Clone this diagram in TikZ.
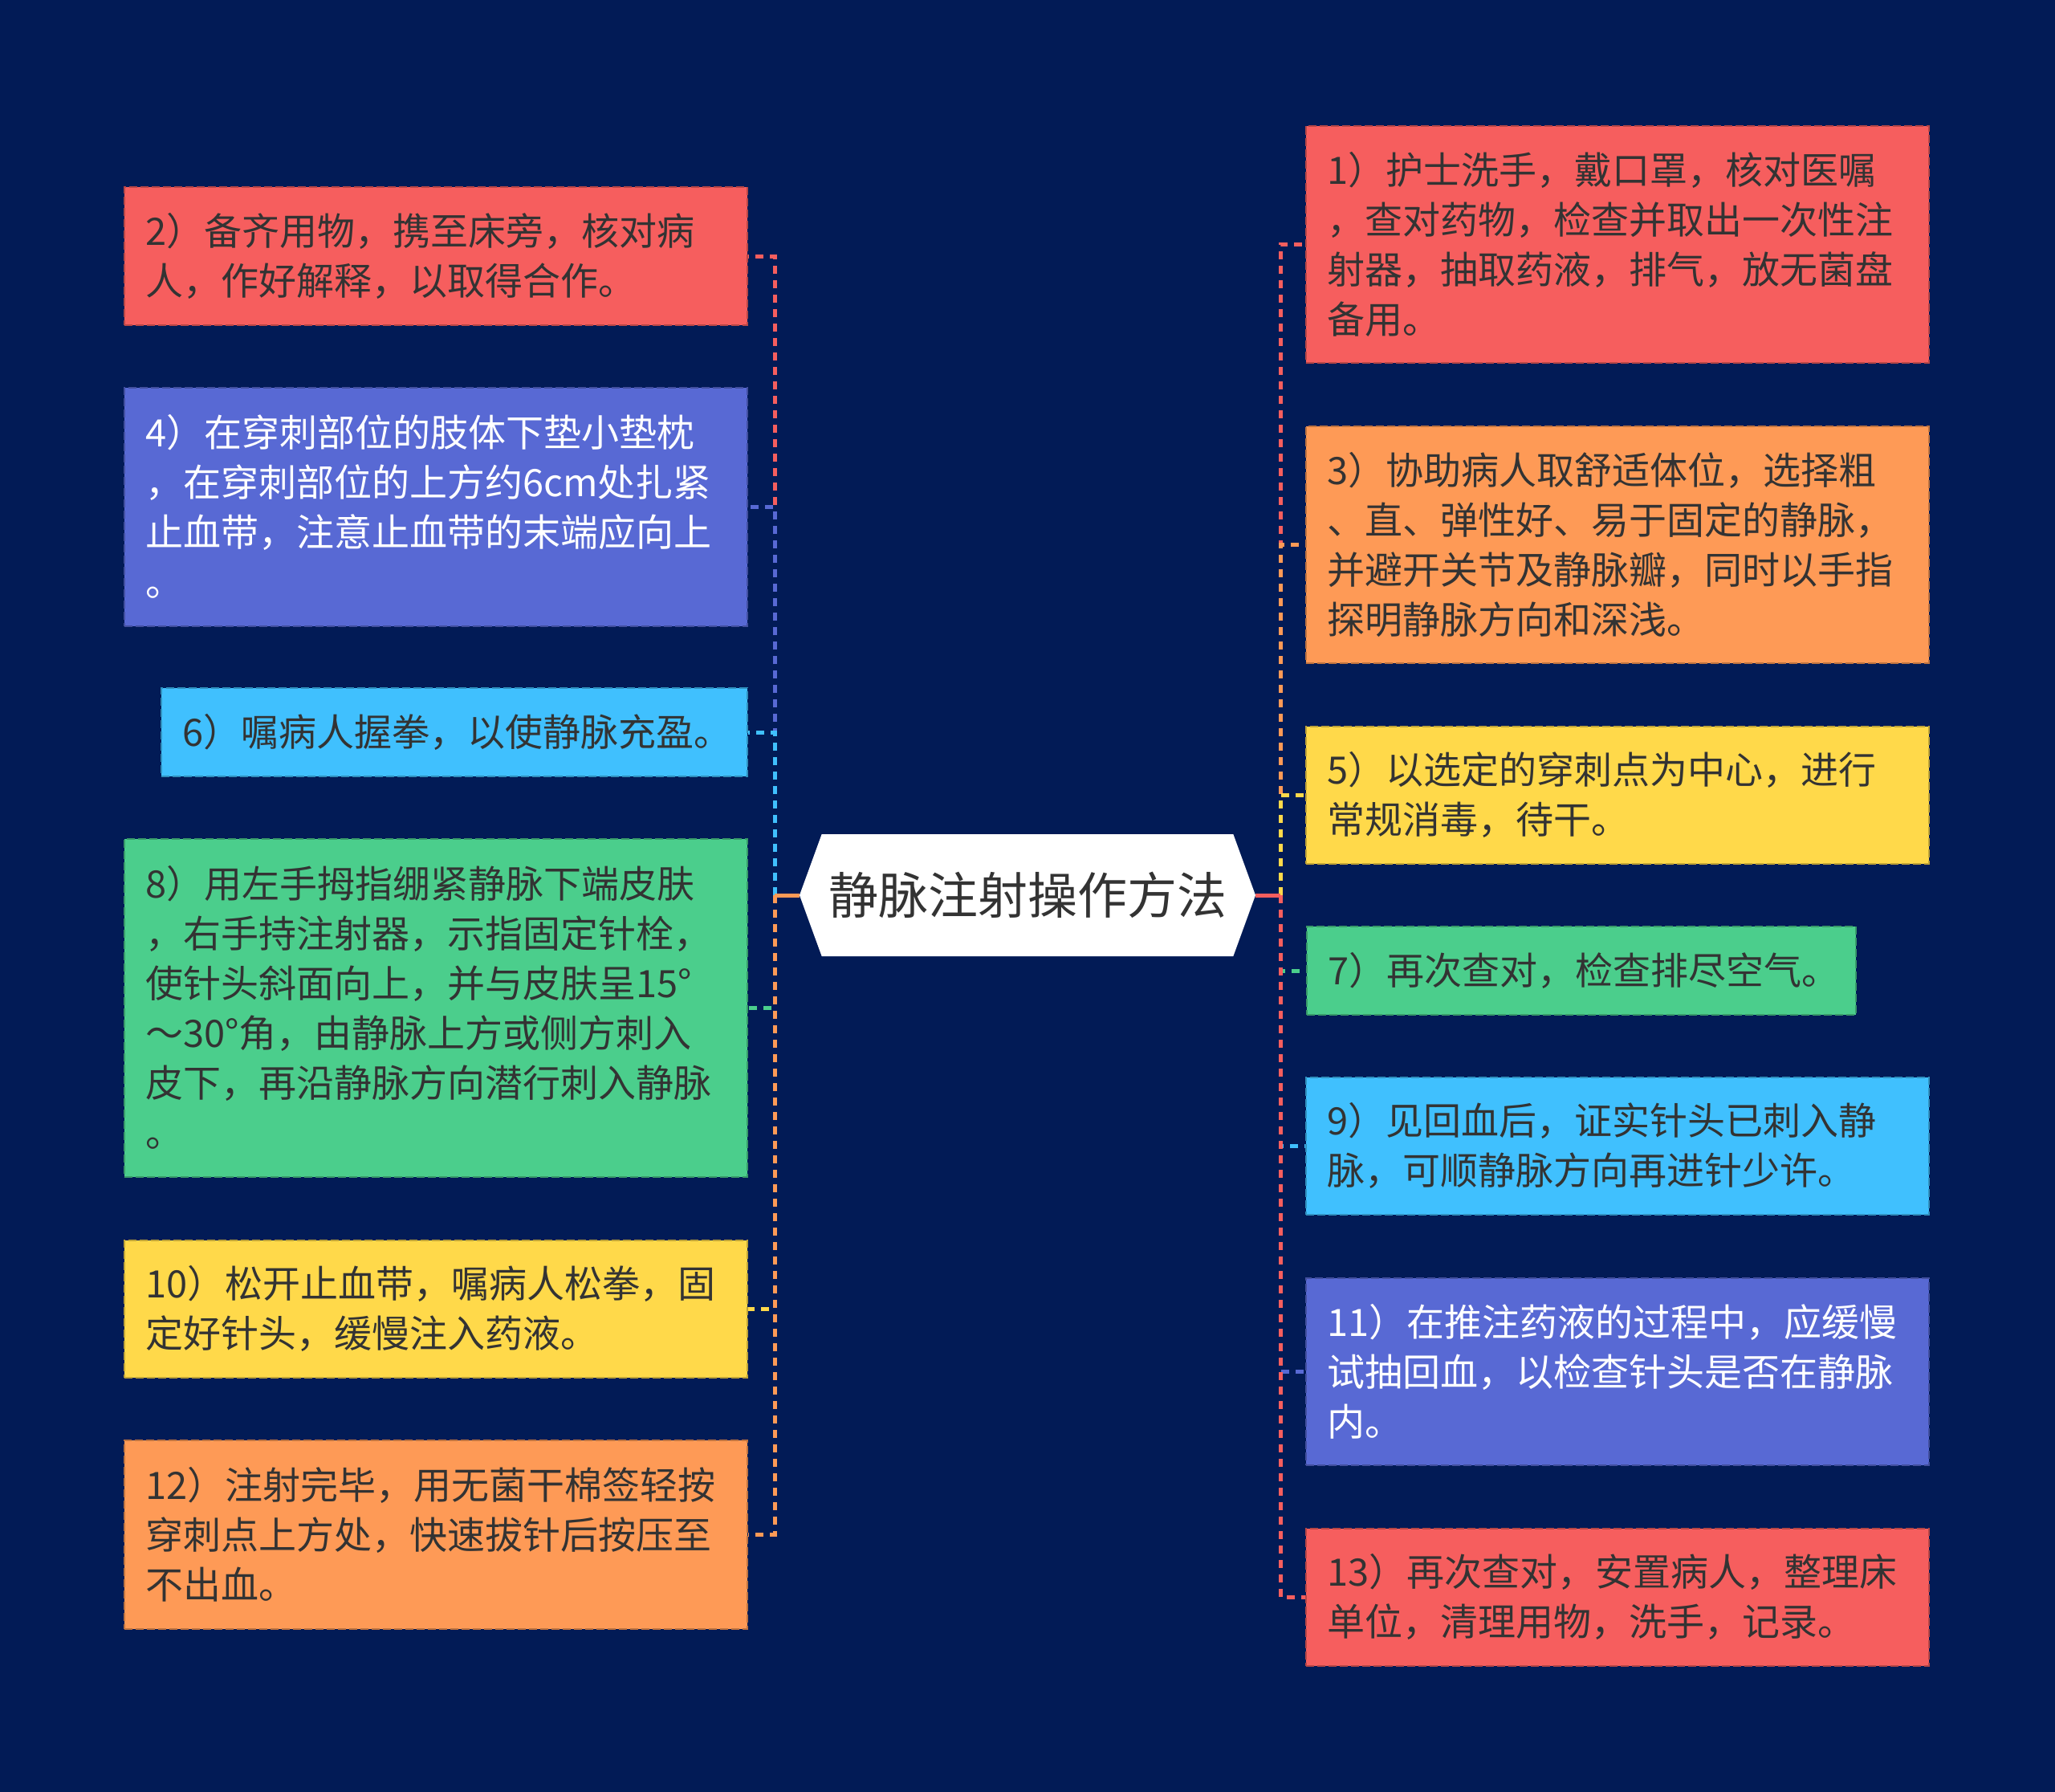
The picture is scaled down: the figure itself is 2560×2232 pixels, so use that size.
\documentclass[tikz,border=0pt]{standalone}
\usepackage{fontspec}
\setmainfont{Noto Sans CJK SC}
\usepackage{xcolor}
\usepackage{tikz}
\usetikzlibrary{shapes.symbols}
\definecolor{bgnavy}{HTML}{021B56}
\definecolor{txtgray}{HTML}{333333}
\definecolor{cred}{HTML}{F65E5E}
\definecolor{corange}{HTML}{FE9A56}
\definecolor{cyellow}{HTML}{FFD94A}
\definecolor{cgreen}{HTML}{4BCE8C}
\definecolor{ccyan}{HTML}{40C0FE}
\definecolor{cblue}{HTML}{5869D4}

\begin{document}
\begin{tikzpicture}[x=1pt,y=-1pt,
  leaf/.style={draw=#1!75!black,fill=#1,dash pattern=on 10pt off 4pt,line width=2pt,
    inner xsep=26pt,inner ysep=0pt,align=left,text=txtgray,text width=724pt,
    font=\fontsize{47}{62}\selectfont},
  stem/.style={#1,line width=5pt},
  link/.style={#1,line width=5pt,dash pattern=on 10pt off 8pt}]
  \fill[bgnavy] (0,0) rectangle (2560,2232);
  \node[signal,signal to=west and east,signal pointer angle=140,fill=white,
    minimum width=568pt,minimum height=152pt,inner sep=0pt,text=txtgray,
    font=\fontsize{62}{70}\selectfont] (root) at (1280,1115) {静脉注射操作方法};
  \coordinate (lj) at (965,1115);
  \coordinate (rj) at (1595,1115);

  \node[leaf=cred,minimum height=172pt] (s2) at (543,319)
    {2）备齐用物，携至床旁，核对病\\人，作好解释，以取得合作。};
  \node[leaf=cblue,text=white,minimum height=297pt] (s4) at (543,631)
    {4）在穿刺部位的肢体下垫小垫枕\\，在穿刺部位的上方约6cm处扎紧\\止血带，注意止血带的末端应向上\\。};
  \node[leaf=ccyan,text width=678pt,minimum height=110pt] (s6) at (566,912)
    {6）嘱病人握拳，以使静脉充盈。};
  \node[leaf=cgreen,minimum height=421pt] (s8) at (543,1255)
    {8）用左手拇指绷紧静脉下端皮肤\\，右手持注射器，示指固定针栓，\\使针头斜面向上，并与皮肤呈15°\\～30°角，由静脉上方或侧方刺入\\皮下，再沿静脉方向潜行刺入静脉\\。};
  \node[leaf=cyellow,minimum height=171pt] (s10) at (543,1630)
    {10）松开止血带，嘱病人松拳，固\\定好针头，缓慢注入药液。};
  \node[leaf=corange,minimum height=235pt] (s12) at (543,1911)
    {12）注射完毕，用无菌干棉签轻按\\穿刺点上方处，快速拔针后按压至\\不出血。};

  \node[leaf=cred,minimum height=295pt] (s1) at (2015,304)
    {1）护士洗手，戴口罩，核对医嘱\\，查对药物，检查并取出一次性注\\射器，抽取药液，排气，放无菌盘\\备用。};
  \node[leaf=corange,minimum height=295pt] (s3) at (2015,678)
    {3）协助病人取舒适体位，选择粗\\、直、弹性好、易于固定的静脉，\\并避开关节及静脉瓣，同时以手指\\探明静脉方向和深浅。};
  \node[leaf=cyellow,minimum height=171pt] (s5) at (2015,990)
    {5）以选定的穿刺点为中心，进行\\常规消毒，待干。};
  \node[leaf=cgreen,text width=632pt,minimum height=110pt] (s7) at (1970,1209)
    {7）再次查对，检查排尽空气。};
  \node[leaf=ccyan,minimum height=171pt] (s9) at (2015,1427)
    {9）见回血后，证实针头已刺入静\\脉，可顺静脉方向再进针少许。};
  \node[leaf=cblue,text=white,minimum height=233pt] (s11) at (2015,1708)
    {11）在推注药液的过程中，应缓慢\\试抽回血，以检查针头是否在静脉\\内。};
  \node[leaf=cred,minimum height=171pt] (s13) at (2015,1989)
    {13）再次查对，安置病人，整理床\\单位，清理用物，洗手，记录。};

  \draw[stem=cred] (root.west) -- (lj);
  \draw[link=cred] (lj) |- (s2);
  \draw[link=cblue] (lj) |- (s4);
  \draw[link=ccyan] (lj) |- (s6);
  \draw[stem=cgreen] (root.west) -- (lj);
  \draw[link=cgreen] (lj) |- (s8);
  \draw[link=cyellow] (lj) |- (s10);
  \draw[stem=corange] (root.west) -- (lj);
  \draw[link=corange] (lj) |- (s12);

  \draw[link=cred] (rj) |- (s1);
  \draw[link=corange] (rj) |- (s3);
  \draw[link=cyellow] (rj) |- (s5);
  \draw[link=cgreen] (rj) |- (s7);
  \draw[link=ccyan] (rj) |- (s9);
  \draw[link=cblue] (rj) |- (s11);
  \draw[stem=cred] (root.east) -- (rj);
  \draw[link=cred] (rj) |- (s13);
\end{tikzpicture}
\end{document}
